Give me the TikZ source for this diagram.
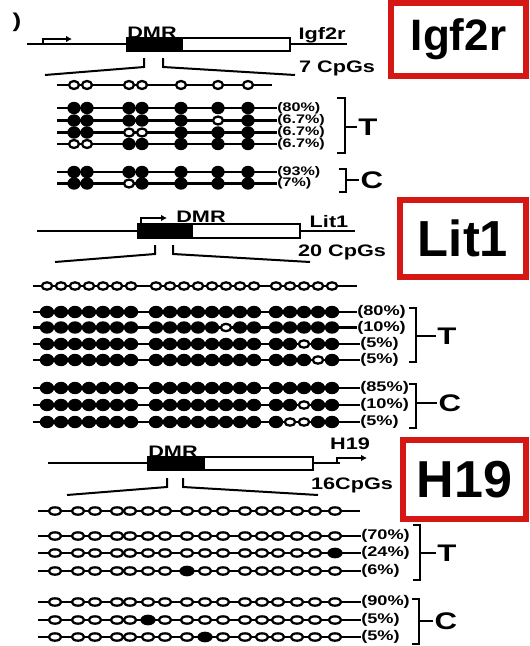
\documentclass[tikz,border=0pt]{standalone}
\usepackage{fontspec}
\setmainfont{Liberation Sans}
\newfontfamily\figfont{Liberation Sans}[FakeStretch=1.3]
\usetikzlibrary{arrows.meta, shapes.geometric}
\definecolor{boxred}{RGB}{214, 24, 20}

% CpG positions along each amplicon
\def\igfpos{{74,87,129,142,181,218,248}}
\def\litpos{{47,61,75,89,103,117,131,156,170,184,198,212,226,240,254,276,290,304,318,332}}
\def\hpos{{55,78,95,117,130,148,165,187,205,223,245,262,278,297,315,335}}

% one clone: name, positions, y, style prefix, states (m/u)
\newcommand{\cpgrow}[5]{%
  \foreach \st [count=\k from 0] in {#5} {%
    \pgfmathsetmacro{\cx}{#2[\k]}%
    \if m\st
      \node[#4m] (#1-\k) at (\cx,#3) {};
    \else
      \node[#4u] (#1-\k) at (\cx,#3) {};
    \fi
  }}
% strand with its percentage label
\newcommand{\strand}[5]{%
  \coordinate (#1a) at (#2,#3);
  \node[pct] (#1l) at (#4,#3) {#5};
  \draw[strand] (#1a) -- (#1l.west);}

\begin{document}
\begin{tikzpicture}[x=0.75pt, y=-0.75pt,
    strand/.style={line width=1.8pt},
    gene/.style={line width=1.8pt},
    fan/.style={line width=1.5pt},
    brace/.style={line width=1.7pt},
    prom/.style={line width=1.8pt, -{Latex[length=4.5pt, width=5pt]}},
    pct/.style={font=\figfont\bfseries\fontsize{10.5}{10.5}\selectfont, anchor=west, inner sep=0},
    small/.style={font=\figfont\bfseries\fontsize{9.3}{9.3}\selectfont},
    lbl/.style={font=\figfont\bfseries\fontsize{12.5}{12.5}\selectfont, inner sep=0},
    grp/.style={font=\figfont\bfseries\fontsize{18}{18}\selectfont, inner sep=1pt},
    genetag/.style={draw=boxred, line width=4.5pt, fill=white, inner sep=0},
    igfm/.style={ellipse, fill=black, inner sep=0, minimum width=10pt, minimum height=9.3pt},
    igfu/.style={ellipse, draw=black, fill=white, line width=1.7pt, inner sep=0, minimum width=7.5pt, minimum height=6pt},
    litm/.style={ellipse, fill=black, inner sep=0, minimum width=10.8pt, minimum height=9.3pt},
    litu/.style={ellipse, draw=black, fill=white, line width=1.7pt, inner sep=0, minimum width=7.8pt, minimum height=5.5pt},
    hm/.style={ellipse, fill=black, inner sep=0, minimum width=11.5pt, minimum height=8pt},
    hu/.style={ellipse, draw=black, fill=white, line width=1.7pt, inner sep=0, minimum width=9.3pt, minimum height=5.5pt}]
    \useasboundingbox (0,0) rectangle (529,646);

    % --- Igf2r ---
    \node[lbl, font=\figfont\bfseries\fontsize{15}{15}\selectfont] (panel) at (17,22) {)};
    \coordinate (igfL) at (27,44);
    \coordinate (igfR) at (347,44);
    \draw[gene] (igfL) -- (igfR);
    \draw[gene, fill=white] (127,38) rectangle (290,51);
    \fill (127,38) rectangle (183,51);
    \coordinate (igfP) at (43,44);
    \coordinate (igfPe) at (72,39);
    \draw[prom] (igfP) |- (igfPe);
    \node[lbl] (igfdmr) at (152,33) {DMR};
    \node[lbl] (igfname) at (322,35) {Igf2r};
    \node[lbl] (igfcpg) at (337,68) {7 CpGs};
    \coordinate (igfk1) at (144,58);
    \coordinate (igfk2) at (163,58);
    \coordinate (igffl) at (45,75);
    \coordinate (igffr) at (295,75);
    \draw[fan] (igfk1) -- ++(0,9) -- (igffl);
    \draw[fan] (igfk2) -- ++(0,9) -- (igffr);

    \coordinate (igf0a) at (57,85);
    \coordinate (igf0b) at (272,85);
    \draw[strand] (igf0a) -- (igf0b);
    \cpgrow{igf0}{\igfpos}{85}{igf}{u,u,u,u,u,u,u}
    \begin{scope}[pct/.append style={small}]
    \strand{igfT1}{57}{108}{277}{(80\%)}
    \cpgrow{igfT1}{\igfpos}{108}{igf}{m,m,m,m,m,m,m}
    \strand{igfT2}{57}{120.5}{277}{(6.7\%)}
    \cpgrow{igfT2}{\igfpos}{120.5}{igf}{m,m,m,m,m,u,m}
    \strand{igfT3}{57}{132.5}{277}{(6.7\%)}
    \cpgrow{igfT3}{\igfpos}{132.5}{igf}{m,m,u,u,m,m,m}
    \strand{igfT4}{57}{144}{277}{(6.7\%)}
    \cpgrow{igfT4}{\igfpos}{144}{igf}{u,u,m,m,m,m,m}
    \strand{igfC1}{57}{172}{277}{(93\%)}
    \cpgrow{igfC1}{\igfpos}{172}{igf}{m,m,m,m,m,m,m}
    \strand{igfC2}{57}{183.5}{277}{(7\%)}
    \cpgrow{igfC2}{\igfpos}{183.5}{igf}{m,m,u,m,m,m,m}
    \end{scope}

    \node[grp] (igfT) at (368,127) {T};
    \node[grp] (igfC) at (372,180) {C};
    \draw[brace] (337,98) -- (345,98) -- (345,153) -- (337,153);
    \coordinate (igfTk) at (345,127);
    \draw[brace] (igfTk) -- (igfT.west);
    \draw[brace] (339,169) -- (346,169) -- (346,192) -- (339,192);
    \coordinate (igfCk) at (346,180);
    \draw[brace] (igfCk) -- (igfC.west);

    \node[genetag, minimum width=101pt, minimum height=55pt,
          font=\bfseries\fontsize{33}{33}\selectfont] (igftag) at (458.5,39.5) {Igf2r};

    % --- Lit1 ---
    \coordinate (litL) at (37,231);
    \coordinate (litR) at (355,231);
    \draw[gene] (litL) -- (litR);
    \draw[gene, fill=white] (138,224) rectangle (300,238);
    \fill (138,224) rectangle (193,238);
    \coordinate (litP) at (141,224);
    \coordinate (litPe) at (167,218);
    \draw[prom] (litP) |- (litPe);
    \node[lbl] (litdmr) at (201,217) {DMR};
    \node[lbl] (litname) at (329,222) {Lit1};
    \node[lbl] (litcpg) at (342,252) {20 CpGs};
    \coordinate (litk1) at (155,245);
    \coordinate (litk2) at (173,245);
    \coordinate (litfl) at (55,262);
    \coordinate (litfr) at (310,262);
    \draw[fan] (litk1) -- ++(0,9) -- (litfl);
    \draw[fan] (litk2) -- ++(0,9) -- (litfr);

    \coordinate (lit0a) at (33,286);
    \coordinate (lit0b) at (357,286);
    \draw[strand] (lit0a) -- (lit0b);
    \cpgrow{lit0}{\litpos}{286}{lit}{u,u,u,u,u,u,u,u,u,u,u,u,u,u,u,u,u,u,u,u}
    \strand{litT1}{33}{312}{357}{(80\%)}
    \cpgrow{litT1}{\litpos}{312}{lit}{m,m,m,m,m,m,m,m,m,m,m,m,m,m,m,m,m,m,m,m}
    \strand{litT2}{33}{327.5}{357}{(10\%)}
    \cpgrow{litT2}{\litpos}{327.5}{lit}{m,m,m,m,m,m,m,m,m,m,m,m,u,m,m,m,m,m,m,m}
    \strand{litT3}{33}{344}{360}{(5\%)}
    \cpgrow{litT3}{\litpos}{344}{lit}{m,m,m,m,m,m,m,m,m,m,m,m,m,m,m,m,m,u,m,m}
    \strand{litT4}{33}{360}{360}{(5\%)}
    \cpgrow{litT4}{\litpos}{360}{lit}{m,m,m,m,m,m,m,m,m,m,m,m,m,m,m,m,m,m,u,m}
    \strand{litC1}{33}{388}{360}{(85\%)}
    \cpgrow{litC1}{\litpos}{388}{lit}{m,m,m,m,m,m,m,m,m,m,m,m,m,m,m,m,m,m,m,m}
    \strand{litC2}{33}{405}{360}{(10\%)}
    \cpgrow{litC2}{\litpos}{405}{lit}{m,m,m,m,m,m,m,m,m,m,m,m,m,m,m,m,m,u,m,m}
    \strand{litC3}{33}{422}{360}{(5\%)}
    \cpgrow{litC3}{\litpos}{422}{lit}{m,m,m,m,m,m,m,m,m,m,m,m,m,m,m,m,u,u,m,m}

    \node[grp] (litT) at (447,336) {T};
    \node[grp] (litC) at (450,403) {C};
    \draw[brace] (409,308) -- (416,308) -- (416,362) -- (409,362);
    \coordinate (litTk) at (416,336);
    \draw[brace] (litTk) -- (litT.west);
    \draw[brace] (409,384) -- (416,384) -- (416,428) -- (409,428);
    \coordinate (litCk) at (416,403);
    \draw[brace] (litCk) -- (litC.west);

    \node[genetag, minimum width=94.5pt, minimum height=57.75pt,
          font=\bfseries\fontsize{38}{38}\selectfont] (littag) at (463,238.5) {Lit1};

    % --- H19 ---
    \coordinate (hL) at (48,463);
    \coordinate (hR) at (340,463);
    \draw[gene] (hL) -- (hR);
    \draw[gene, fill=white] (148,457) rectangle (313,470);
    \fill (148,457) rectangle (205,470);
    \coordinate (hP) at (337,463);
    \coordinate (hPe) at (367,458);
    \draw[prom] (hP) |- (hPe);
    \node[lbl] (hdmr) at (173,452) {DMR};
    \node[lbl] (hname) at (350,444) {H19};
    \node[lbl] (hcpg) at (352,485) {16CpGs};
    \coordinate (hk1) at (167,478);
    \coordinate (hk2) at (183,478);
    \coordinate (hfl) at (67,495);
    \coordinate (hfr) at (318,495);
    \draw[fan] (hk1) -- ++(0,9) -- (hfl);
    \draw[fan] (hk2) -- ++(0,9) -- (hfr);

    \coordinate (h0a) at (38,511);
    \coordinate (h0b) at (360,511);
    \draw[strand] (h0a) -- (h0b);
    \cpgrow{h0}{\hpos}{511}{h}{u,u,u,u,u,u,u,u,u,u,u,u,u,u,u,u}
    \strand{hT1}{38}{536}{361}{(70\%)}
    \cpgrow{hT1}{\hpos}{536}{h}{u,u,u,u,u,u,u,u,u,u,u,u,u,u,u,u}
    \strand{hT2}{38}{553}{361}{(24\%)}
    \cpgrow{hT2}{\hpos}{553}{h}{u,u,u,u,u,u,u,u,u,u,u,u,u,u,u,m}
    \strand{hT3}{38}{571}{361}{(6\%)}
    \cpgrow{hT3}{\hpos}{571}{h}{u,u,u,u,u,u,u,m,u,u,u,u,u,u,u,u}
    \strand{hC1}{38}{602}{361}{(90\%)}
    \cpgrow{hC1}{\hpos}{602}{h}{u,u,u,u,u,u,u,u,u,u,u,u,u,u,u,u}
    \strand{hC2}{38}{620}{361}{(5\%)}
    \cpgrow{hC2}{\hpos}{620}{h}{u,u,u,u,u,m,u,u,u,u,u,u,u,u,u,u}
    \strand{hC3}{38}{637}{361}{(5\%)}
    \cpgrow{hC3}{\hpos}{637}{h}{u,u,u,u,u,u,u,u,m,u,u,u,u,u,u,u}

    \node[grp] (hT) at (447,553) {T};
    \node[grp] (hC) at (446,621) {C};
    \draw[brace] (413,525) -- (420,525) -- (420,580) -- (413,580);
    \coordinate (hTk) at (420,553);
    \draw[brace] (hTk) -- (hT.west);
    \draw[brace] (412,599) -- (419,599) -- (419,644) -- (412,644);
    \coordinate (hCk) at (419,621);
    \draw[brace] (hCk) -- (hC.west);

    \node[genetag, minimum width=92.25pt, minimum height=59.25pt,
          font=\bfseries\fontsize{39}{39}\selectfont] (htag) at (464.5,479.5) {H19};
\end{tikzpicture}
\end{document}
